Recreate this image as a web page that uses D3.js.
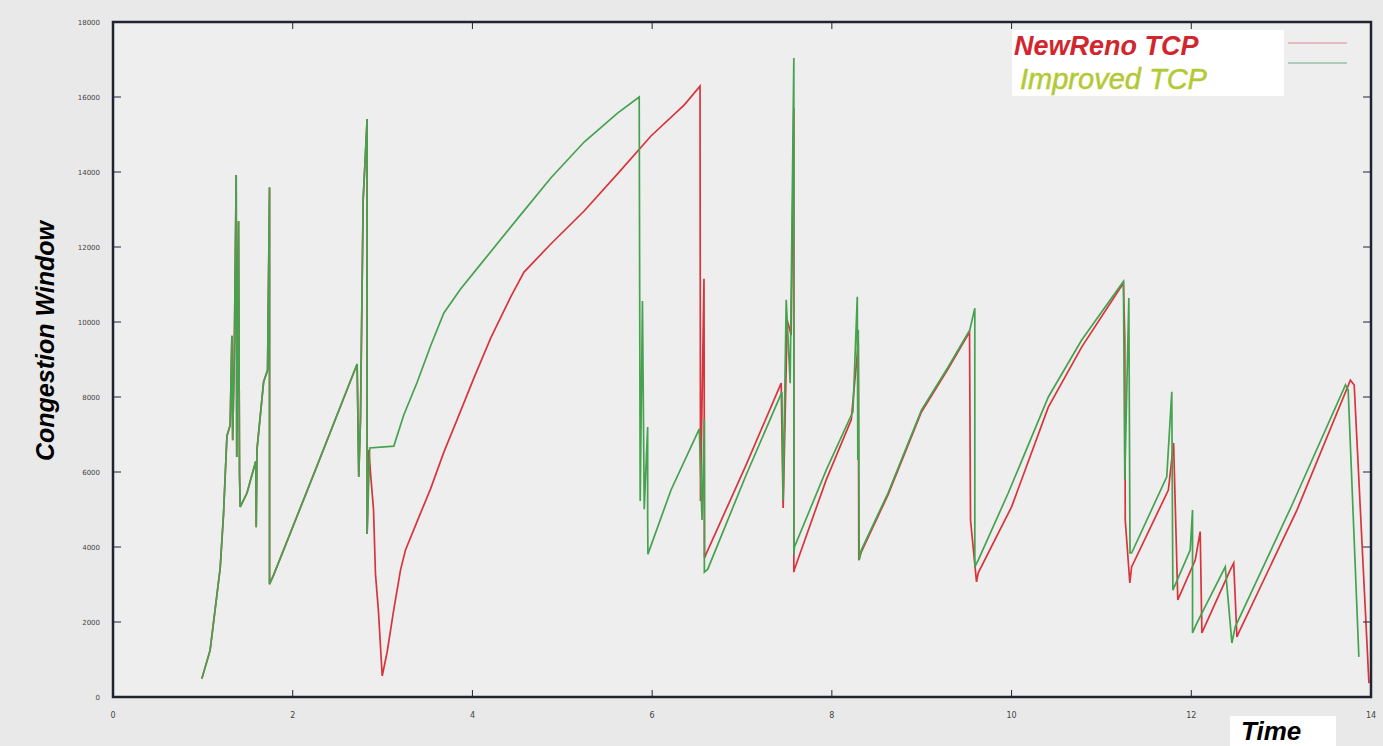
<!DOCTYPE html>
<html>
<head>
<meta charset="utf-8">
<script src="https://cdn.jsdelivr.net/npm/d3@7"></script>
<style>
  body { margin: 0; background: #e9e9e9; }
  svg { display: block; }
</style>
</head>
<body>
<script>
// time (s), congestion window
// both traces run together until ~2.83s (green drawn on top)
var sharedStart = [
  [0.989, 490], [1.081, 1250], [1.193, 3440], [1.230, 4880], [1.268, 6960],
  [1.304, 7250], [1.323, 9630], [1.332, 6850], [1.349, 8990], [1.371, 13920],
  [1.377, 6400], [1.397, 12690], [1.408, 5920], [1.416, 5070], [1.491, 5440],
  [1.589, 6290], [1.594, 4530], [1.602, 6590], [1.676, 8400], [1.720, 8720],
  [1.742, 13590], [1.742, 3010], [1.787, 3250], [2.252, 6050], [2.717, 8880],
  [2.735, 5870], [2.754, 7390], [2.784, 13250], [2.828, 15410], [2.828, 4350]
];

var improvedTail = [
  [2.857, 6640], [3.125, 6690], [3.236, 7520], [3.386, 8400], [3.534, 9360],
  [3.682, 10240], [3.868, 10880], [4.128, 11650], [4.500, 12750], [4.872, 13840],
  [5.243, 14800], [5.615, 15570], [5.856, 16000], [5.867, 5230], [5.892, 10560],
  [5.912, 5010], [5.950, 7200], [5.950, 4800], [5.953, 3810], [6.210, 5520],
  [6.525, 7150], [6.555, 4720], [6.581, 7410], [6.581, 3330], [6.619, 3410],
  [7.046, 5920], [7.444, 8130], [7.458, 5250], [7.492, 10590], [7.536, 8370],
  [7.577, 17040], [7.577, 3810], [7.584, 4000], [7.937, 6050], [8.235, 7610],
  [8.283, 10670], [8.289, 6320], [8.294, 9790], [8.305, 3650], [8.328, 3920],
  [8.625, 5440], [8.997, 7650], [9.294, 8800], [9.535, 9790], [9.591, 10370],
  [9.591, 3470], [9.629, 3650], [9.963, 5440], [10.409, 8000], [10.780, 9520],
  [11.245, 11080], [11.260, 5790], [11.305, 10640], [11.318, 3840], [11.336, 3840],
  [11.727, 5870], [11.783, 8140], [11.788, 5790], [11.795, 2850], [11.988, 3920],
  [12.014, 4990], [12.014, 1710], [12.062, 1970], [12.378, 3470], [12.452, 1440],
  [12.489, 1870], [13.121, 5120], [13.716, 8320], [13.746, 8190], [13.865, 1070]
];

var newRenoTail = [
  [2.848, 6590], [2.865, 6000], [2.899, 5010], [2.921, 3280], [2.954, 2290],
  [2.996, 560], [3.051, 1200], [3.122, 2290], [3.200, 3390], [3.255, 3920],
  [3.386, 4690], [3.534, 5550], [3.682, 6530], [3.832, 7410], [4.017, 8510],
  [4.203, 9570], [4.426, 10670], [4.574, 11330], [4.872, 12080], [5.243, 12960],
  [5.615, 13950], [5.987, 14960], [6.358, 15790], [6.533, 16290], [6.538, 5230],
  [6.577, 11150], [6.583, 3710], [6.600, 3810], [7.046, 6190], [7.436, 8370],
  [7.458, 5040], [7.503, 10050], [7.547, 9650], [7.577, 15710], [7.577, 3330],
  [7.584, 3410], [7.937, 5790], [8.216, 7390], [8.294, 9440], [8.300, 3650],
  [8.328, 3870], [8.625, 5390], [8.997, 7600], [9.294, 8750], [9.532, 9730],
  [9.543, 4720], [9.610, 3070], [9.629, 3310], [10.000, 5070], [10.409, 7730],
  [10.780, 9330], [11.245, 11040], [11.260, 9600], [11.265, 4720], [11.316, 3040],
  [11.336, 3470], [11.745, 5520], [11.803, 6770], [11.850, 2590], [12.044, 3650],
  [12.099, 4410], [12.118, 1710], [12.434, 3390], [12.472, 3570], [12.508, 1600],
  [12.527, 1710], [13.177, 4990], [13.771, 8450], [13.813, 8320], [13.977, 370]
];

var xTicks = [0, 2, 4, 6, 8, 10, 12, 14];
var yTicks = [0, 2000, 4000, 6000, 8000, 10000, 12000, 14000, 16000, 18000];
var seriesNames = ["NewReno TCP", "Improved TCP"];

var W = 1383, H = 746;
var margin = { top: 22, right: 12, bottom: 49, left: 113 };

var svg = d3.select("body").append("svg")
  .attr("width", W)
  .attr("height", H);

svg.append("rect").attr("width", W).attr("height", H).attr("fill", "#e9e9e9");

var x = d3.scaleLinear().domain([0, 14]).range([margin.left, W - margin.right]);
var y = d3.scaleLinear().domain([0, 18000]).range([H - margin.bottom, margin.top]);

// plot area
svg.append("rect")
  .attr("x", x(0)).attr("y", y(18000))
  .attr("width", x(14) - x(0)).attr("height", y(0) - y(18000))
  .attr("fill", "#eeeeee");

var line = d3.line()
  .x(function(d) { return x(d[0]); })
  .y(function(d) { return y(d[1]); });

var newReno = sharedStart.concat(newRenoTail);
var improved = sharedStart.concat(improvedTail);

svg.append("path")
  .datum(newReno)
  .attr("fill", "none")
  .attr("stroke", "#d8343c")
  .attr("stroke-width", 1.7)
  .attr("d", line);

svg.append("path")
  .datum(improved)
  .attr("fill", "none")
  .attr("stroke", "#45a24f")
  .attr("stroke-width", 1.7)
  .attr("d", line);

// axes (gnuplot style: ticks inside, mirrored)
var ax = svg.append("g").attr("stroke", "#1f2530").attr("stroke-width", 1);

ax.selectAll(".xt").data(xTicks).enter().append("line")
  .attr("x1", function(d) { return x(d); }).attr("x2", function(d) { return x(d); })
  .attr("y1", y(0)).attr("y2", y(0) - 7);
ax.selectAll(".xt2").data(xTicks).enter().append("line")
  .attr("x1", function(d) { return x(d); }).attr("x2", function(d) { return x(d); })
  .attr("y1", y(18000)).attr("y2", y(18000) + 7);
ax.selectAll(".yt").data(yTicks).enter().append("line")
  .attr("x1", x(0)).attr("x2", x(0) + 8)
  .attr("y1", function(d) { return y(d); }).attr("y2", function(d) { return y(d); });
ax.selectAll(".yt2").data(yTicks).enter().append("line")
  .attr("x1", x(14)).attr("x2", x(14) - 8)
  .attr("y1", function(d) { return y(d); }).attr("y2", function(d) { return y(d); });

svg.append("rect")
  .attr("x", x(0)).attr("y", y(18000))
  .attr("width", x(14) - x(0)).attr("height", y(0) - y(18000))
  .attr("fill", "none")
  .attr("stroke", "#1f2530")
  .attr("stroke-width", 2.5);

svg.selectAll(".xl").data(xTicks).enter().append("text")
  .attr("x", function(d) { return x(d); })
  .attr("y", y(0) + 21)
  .attr("text-anchor", "middle")
  .attr("font-family", "DejaVu Sans")
  .attr("font-size", 8)
  .attr("fill", "#444")
  .text(function(d) { return d; });

svg.selectAll(".yl").data(yTicks).enter().append("text")
  .attr("x", x(0) - 13)
  .attr("y", function(d) { return y(d) + 3; })
  .attr("text-anchor", "end")
  .attr("font-family", "DejaVu Sans")
  .attr("font-size", 7)
  .attr("fill", "#444")
  .text(function(d) { return d; });

// axis titles
svg.append("text")
  .attr("transform", "translate(54," + 341 + ") rotate(-90)")
  .attr("text-anchor", "middle")
  .attr("font-family", "Liberation Sans, Arial, sans-serif")
  .attr("font-weight", "bold")
  .attr("font-style", "italic")
  .attr("font-size", 25)
  .attr("fill", "#000")
  .text("Congestion Window");

svg.append("rect")
  .attr("x", 1230).attr("y", 716).attr("width", 106).attr("height", 30)
  .attr("fill", "#ffffff");
svg.append("text")
  .attr("x", 1241).attr("y", 740)
  .attr("font-family", "Liberation Sans, Arial, sans-serif")
  .attr("font-weight", "bold")
  .attr("font-style", "italic")
  .attr("font-size", 26)
  .attr("fill", "#000")
  .text("Time");

// legend
var legend = svg.append("g");
legend.append("rect")
  .attr("x", 1012).attr("y", 30).attr("width", 272).attr("height", 66)
  .attr("fill", "#ffffff");
legend.append("text")
  .attr("x", 1014).attr("y", 55)
  .attr("font-family", "Liberation Sans, Arial, sans-serif")
  .attr("font-weight", "bold")
  .attr("font-style", "italic")
  .attr("font-size", 27)
  .attr("fill", "#d2262e")
  .text(seriesNames[0]);
legend.append("text")
  .attr("x", 1020).attr("y", 89)
  .attr("font-family", "Liberation Sans, Arial, sans-serif")
  .attr("font-style", "italic")
  .attr("font-size", 29)
  .attr("fill", "#b3c934")
  .attr("stroke", "#b3c934")
  .attr("stroke-width", 0.5)
  .text(seriesNames[1]);
legend.append("line")
  .attr("x1", 1288).attr("x2", 1347).attr("y1", 43).attr("y2", 43)
  .attr("stroke", "#d98890").attr("stroke-width", 1.2);
legend.append("line")
  .attr("x1", 1288).attr("x2", 1347).attr("y1", 63).attr("y2", 63)
  .attr("stroke", "#6aa98a").attr("stroke-width", 1.2);
</script>
</body>
</html>
